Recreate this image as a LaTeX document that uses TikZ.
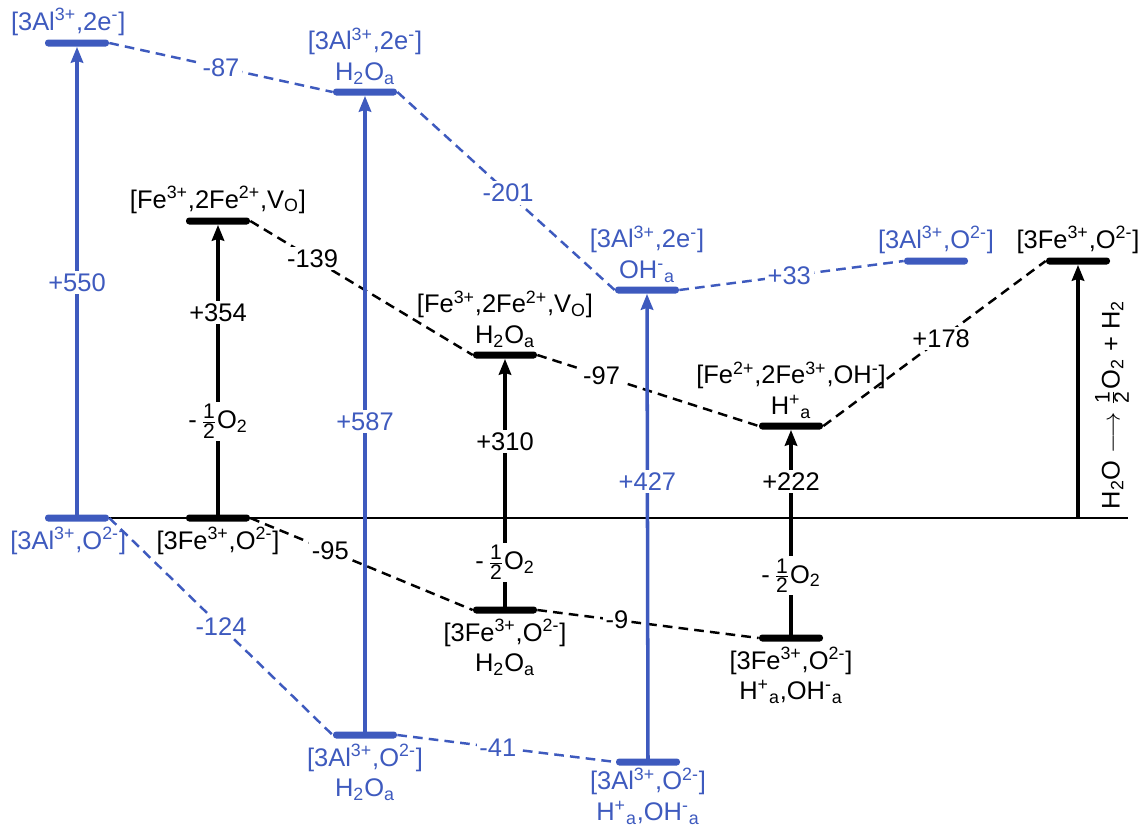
\documentclass[tikz,border=0pt]{standalone}
\usepackage{fontspec}
\setmainfont{Liberation Sans}
\usetikzlibrary{arrows.meta,positioning}
\definecolor{alblue}{RGB}{62,90,190}
\newcommand{\halfn}{$\frac{\mbox{\fontsize{12}{12}\selectfont 1}}{\mbox{\fontsize{12}{12}\selectfont 2}}$}
\newcommand{\lossO}{-\,\halfn O\textsubscript{2}}

\begin{document}
\begin{tikzpicture}[
    x=0.02cm, y=-0.02cm,
    every node/.style={font=\fontsize{14.5}{17.5}\selectfont, text=black},
    felevel/.style={rectangle, fill=black, rounded corners=1.8pt, inner sep=0pt,
                    minimum width=1.28cm, minimum height=0.14cm},
    allevel/.style={felevel, fill=alblue},
    fearrow/.style={draw=black, line width=2pt,
                    -{Stealth[length=9pt, width=7pt, inset=1pt]}},
    alarrow/.style={fearrow, draw=alblue},
    fedash/.style={draw=black, line width=1.4pt, dash pattern=on 5.5pt off 3.5pt},
    aldash/.style={fedash, draw=alblue},
    val/.style={fill=white, inner sep=1.5pt},
    alval/.style={val, text=alblue},
    lab/.style={align=center, inner sep=1pt},
    allab/.style={lab, text=alblue}
  ]
  \useasboundingbox (0,0) rectangle (1143,826);

  %--------------------------------------
  % 1) Energy levels
  %--------------------------------------
  % Fe levels (black)
  \node[felevel] (F1) at (218,518) {};
  \node[felevel] (F2) at (218,221) {};
  \node[felevel] (F3) at (505,610) {};
  \node[felevel] (F4) at (505,355) {};
  \node[felevel] (F5) at (791,638) {};
  \node[felevel] (F6) at (791,426) {};
  \node[felevel] (F7) at (1078,261) {};
  % Al levels (blue)
  \node[allevel] (A1) at (77,518) {};
  \node[allevel] (A2) at (77,43) {};
  \node[allevel] (A3) at (365,92) {};
  \node[allevel] (A4) at (365,735) {};
  \node[allevel] (A5) at (647,290) {};
  \node[allevel] (A6) at (648,762) {};
  \node[allevel] (A7) at (936,261) {};

  % Zero line
  \coordinate (Z1) at (1128,518);
  \draw[line width=0.7pt] (A1.east) -- (Z1);

  %--------------------------------------
  % 2) Level labels
  %--------------------------------------
  \node[lab, below=2pt of F1] (F1t) {[3Fe\textsuperscript{3+},O\textsuperscript{2-}]};
  \node[lab, above=1pt of F2] (F2t) {[Fe\textsuperscript{3+},2Fe\textsuperscript{2+},V\textsubscript{O}]};
  \node[lab, below=2pt of F3] (F3t) {[3Fe\textsuperscript{3+},O\textsuperscript{2-}]\\H\textsubscript{2}O\textsubscript{a}};
  \node[lab, above=1pt of F4] (F4t) {[Fe\textsuperscript{3+},2Fe\textsuperscript{2+},V\textsubscript{O}]\\H\textsubscript{2}O\textsubscript{a}};
  \node[lab, below=2pt of F5] (F5t) {[3Fe\textsuperscript{3+},O\textsuperscript{2-}]\\H\textsuperscript{+}\textsubscript{a},OH\textsuperscript{-}\textsubscript{a}};
  \node[lab, above=1pt of F6] (F6t) {[Fe\textsuperscript{2+},2Fe\textsuperscript{3+},OH\textsuperscript{-}]\\H\textsuperscript{+}\textsubscript{a}};
  \node[lab, above=1pt of F7] (F7t) {[3Fe\textsuperscript{3+},O\textsuperscript{2-}]};

  \node[allab, below=2pt of A1, xshift=-5pt] (A1t) {[3Al\textsuperscript{3+},O\textsuperscript{2-}]};
  \node[allab, above=1pt of A2, xshift=-5pt] (A2t) {[3Al\textsuperscript{3+},2e\textsuperscript{-}]};
  \node[allab, above=1pt of A3] (A3t) {[3Al\textsuperscript{3+},2e\textsuperscript{-}]\\H\textsubscript{2}O\textsubscript{a}};
  \node[allab, below=2pt of A4] (A4t) {[3Al\textsuperscript{3+},O\textsuperscript{2-}]\\H\textsubscript{2}O\textsubscript{a}};
  \node[allab, above=1pt of A5] (A5t) {[3Al\textsuperscript{3+},2e\textsuperscript{-}]\\OH\textsuperscript{-}\textsubscript{a}};
  \node[allab, below=0pt of A6] (A6t) {[3Al\textsuperscript{3+},O\textsuperscript{2-}]\\H\textsuperscript{+}\textsubscript{a},OH\textsuperscript{-}\textsubscript{a}};
  \node[allab, above=1pt of A7] (A7t) {[3Al\textsuperscript{3+},O\textsuperscript{2-}]};

  %--------------------------------------
  % 3) Fe pathway: steps and excitations
  %--------------------------------------
  \draw[fedash] (F2.east) -- (F4.west) node[val, pos=0.28] {-139};
  \draw[fedash] (F4.east) -- (F6.west) node[val, pos=0.29] {-97};
  \draw[fedash] (F1.east) -- (F3.west) node[val, pos=0.36] {-95};
  \draw[fedash] (F3.east) -- (F5.west) node[val, pos=0.36] {-9};
  \draw[fedash] (F6.east) -- (F7.west) node[val, pos=0.53] {+178};

  \draw[fearrow] (F1.center) -- (F2.south)
    node[val, pos=0.70] {+354}
    node[val, pos=0.33] {\lossO};
  \draw[fearrow] (F3.center) -- (F4.south)
    node[val, pos=0.67] {+310}
    node[val, pos=0.19] {\lossO};
  \draw[fearrow] (F5.center) -- (F6.south)
    node[val, pos=0.75] {+222}
    node[val, pos=0.30] {\lossO};
  \draw[fearrow] (F7 |- A1) -- (F7.south);
  \node[rotate=90] (rxn) at (1112,405)
    {H\textsubscript{2}O $\longrightarrow$ \halfn O\textsubscript{2} + H\textsubscript{2}};

  %--------------------------------------
  % 4) Al pathway: steps and excitations
  %--------------------------------------
  \draw[aldash] (A2.east) -- (A3.west) node[alval, pos=0.5] {-87};
  \draw[aldash] (A3.east) -- (A5.west) node[alval, pos=0.51] {-201};
  \draw[aldash] (A5.east) -- (A7.west) node[alval, pos=0.49] {+33};
  \draw[aldash] (A1.east) -- (A4.west) node[alval, pos=0.5] {-124};
  \draw[aldash] (A4.east) -- (A6.west) node[alval, pos=0.46] {-41};

  \draw[alarrow] (A1.center) -- (A2.south) node[alval, pos=0.5] {+550};
  \draw[alarrow] (A4.center) -- (A3.south) node[alval, pos=0.49] {+587};
  \draw[alarrow] (A6.center) -- (A5.south) node[alval, pos=0.6] {+427};

\end{tikzpicture}
\end{document}
